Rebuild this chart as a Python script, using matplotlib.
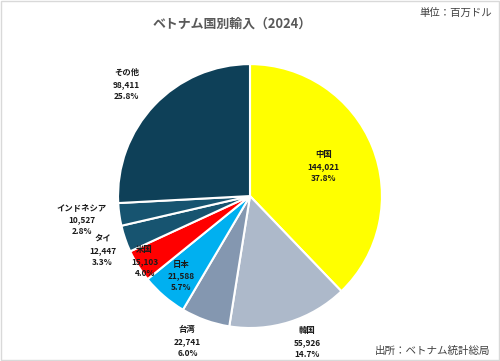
import numpy as np
import matplotlib
matplotlib.use("Agg")
import matplotlib.pyplot as plt
from matplotlib.patches import Rectangle

plt.rcParams['font.family'] = ['Noto Sans CJK JP', 'DejaVu Sans']

countries = ["中国", "韓国", "台湾", "日本", "米国", "タイ", "インドネシア", "その他"]
imports = [144021, 55926, 22741, 21588, 15103, 12447, 10527, 98411]

colors = ["#FFFF00", "#ADB9CA", "#8497B0", "#00B0F0", "#FF0000",
          "#175470", "#175470", "#0E4058"]
# label placement: radial distance (fraction of radius), angle nudge (deg)
label_r = [0.60, 1.19, 1.20, 0.80, 0.94, 1.19, 1.29, 1.26]
label_da = [0.0, 3.9, -3.5, 0.0, 0.0, 1.3, 0.0, 1.4]

fig = plt.figure(figsize=(5.0, 3.61), dpi=100)
ax = fig.add_axes([0.236, 0.0914, 0.528, 0.731])

wedges, _ = ax.pie(imports, colors=colors, startangle=90, counterclock=False,
                   radius=1.0,
                   wedgeprops=dict(edgecolor="white", linewidth=1.5))
ax.set_xlim(-1, 1)
ax.set_ylim(-1, 1)
ax.set_aspect("equal")
ax.axis("off")

total = float(sum(imports))
for w, name, v, r, da in zip(wedges, countries, imports, label_r, label_da):
    mid = np.deg2rad((w.theta1 + w.theta2) / 2.0 + da)
    x, y = r * np.cos(mid), r * np.sin(mid)
    txt = "%s\n%s\n%.1f%%" % (name, format(v, ","), v / total * 100)
    ax.text(x, y, txt, ha="center", va="center", fontsize=6.0,
            fontweight="bold", color="#1a1a1a", linespacing=1.4,
            clip_on=False)

fig.text(0.465, 0.935, "ベトナム国別輸入（2024）", ha="center", va="center",
         fontsize=9.3, fontweight="bold", color="#595959")
fig.text(0.984, 0.964, "単位：百万ドル", ha="right", va="center",
         fontsize=7.5, color="#404040")
fig.text(0.98, 0.028, "出所：ベトナム統計総局", ha="right", va="center",
         fontsize=7.6, color="#404040")

fig.add_artist(Rectangle((0.001, 0.002), 0.997, 0.995, fill=False,
                         edgecolor="#D9D9D9", lw=1.0,
                         transform=fig.transFigure))

fig.savefig("out.png", dpi=100)
